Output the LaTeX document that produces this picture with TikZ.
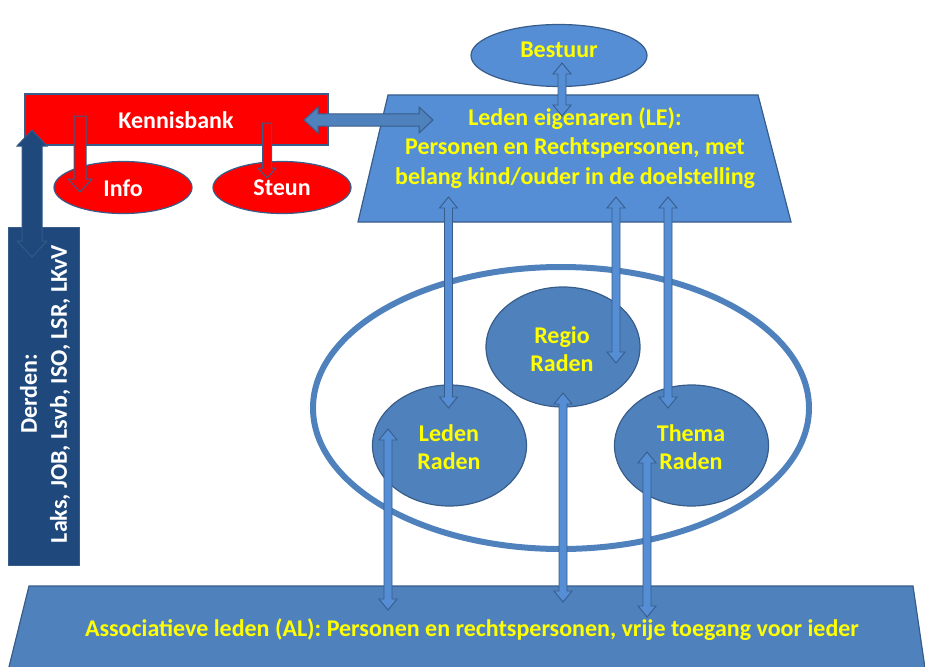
\documentclass[tikz,border=0pt]{standalone}
\usepackage{fontspec}
\setmainfont{Carlito}
\usetikzlibrary{shapes.geometric,calc}
\definecolor{lightblue}{RGB}{85,142,213}
\definecolor{midblue}{RGB}{79,129,189}
\definecolor{edgeblue}{RGB}{56,93,138}
\definecolor{darkblue}{RGB}{31,73,125}
\definecolor{txtyellow}{RGB}{255,255,0}
\definecolor{kred}{RGB}{255,0,0}
% double block arrow: style, A, B, shaft half width, head half width, head length
\newcommand\dblarrow[6]{%
  \coordinate (da1) at ($(#2)!#6!(#3)$);
  \coordinate (da2) at ($(#3)!#6!(#2)$);
  \draw[#1] (#2) -- ($(da1)!#5!90:(#3)$) -- ($(da1)!#4!90:(#3)$)
    -- ($(da2)!#4!90:(#3)$) -- ($(da2)!#5!90:(#3)$) -- (#3)
    -- ($(da2)!#5!-90:(#3)$) -- ($(da2)!#4!-90:(#3)$)
    -- ($(da1)!#4!-90:(#3)$) -- ($(da1)!#5!-90:(#3)$) -- cycle;}
% single block arrow: style, tail, tip, shaft half width, head half width, head length
\newcommand\sglarrow[6]{%
  \coordinate (sa1) at ($(#3)!#6!(#2)$);
  \draw[#1] ($(#2)!#4!90:(#3)$) -- ($(sa1)!#4!90:(#3)$) -- ($(sa1)!#5!90:(#3)$)
    -- (#3) -- ($(sa1)!#5!-90:(#3)$) -- ($(sa1)!#4!-90:(#3)$)
    -- ($(#2)!#4!-90:(#3)$) -- cycle;}
\tikzset{
  ell/.style={ellipse, draw=edgeblue, line width=1.2pt, inner sep=0pt},
  ytxt/.style={text=txtyellow, font=\bfseries\fontsize{24}{29.5}\selectfont, align=center, inner sep=0pt},
  wtxt/.style={text=white, font=\bfseries\fontsize{24}{29.5}\selectfont, align=center, inner sep=0pt},
  radentxt/.style={ytxt, font=\bfseries\fontsize{24}{28.5}\selectfont},
  thinarrow/.style={fill=lightblue, draw=edgeblue, line width=0.9pt, line join=miter},
  bluearrow/.style={fill=midblue, draw=edgeblue, line width=1pt, line join=miter},
  redarrow/.style={fill=kred, draw=edgeblue, line width=1pt, line join=miter},
  darkarrow/.style={fill=darkblue, draw=edgeblue!80!darkblue, line width=1pt, line join=miter},
}
\begin{document}
\begin{tikzpicture}[x=1pt,y=-1pt]
\useasboundingbox (0,0) rectangle (925,666);
% Associatieve leden trapezoid
\begin{scope}
  \clip (0,0) rectangle (925,666);
  \draw[fill=midblue, draw=edgeblue, line width=1.2pt] (29,586) -- (913,586) -- (926,675) -- (7,675) -- cycle;
\end{scope}
\node[ytxt] (al) at (472,630) {Associatieve leden (AL): Personen en rechtspersonen, vrije toegang voor ieder};
% Leden eigenaren trapezoid
\draw[fill=lightblue, draw=edgeblue, line width=1.2pt] (388,95) -- (758,95) -- (791,222) -- (358,222) -- cycle;
\node[ytxt] (le) at (575,148) {Leden eigenaren (LE):\\Personen en Rechtspersonen, met\\belang kind/ouder in de doelstelling};
% Bestuur
\node[ell, fill=lightblue, minimum width=176pt, minimum height=62pt] (bestuur) at (559,55.5) {};
\node[ytxt] (bestuurtxt) at (559,50) {Bestuur};
% Kennisbank
\node[draw=edgeblue, fill=kred, line width=1.2pt, minimum width=303pt, minimum height=51pt, inner sep=0pt] (kb) at (176.5,119.5) {};
\node[wtxt] (kbtxt) at (176,120) {Kennisbank};
\node[ell, fill=kred, minimum width=138pt, minimum height=52pt] (info) at (123,187.5) {};
\node[wtxt] (infotxt) at (123,188) {Info};
\node[ell, fill=kred, minimum width=138pt, minimum height=52pt] (steun) at (282,187.5) {};
\node[wtxt] (steuntxt) at (282,188) {Steun};
% Derden
\node[draw=edgeblue, fill=darkblue, line width=1pt, minimum width=71pt, minimum height=338pt, inner sep=0pt] (derden) at (43.5,396) {};
\node[wtxt, rotate=90, font=\bfseries\fontsize{24}{30}\selectfont] (derdentxt) at (45,394) {Derden:\\Laks, JOB, Lsvb, ISO, LSR, LKvV};
% big ellipse
\node[ellipse, draw=midblue, line width=6pt, minimum width=496pt, minimum height=282pt, inner sep=0pt] (raad) at (561,408) {};
% Raden
\node[ell, fill=midblue, minimum width=154pt, minimum height=120pt] (regio) at (563,347) {};
\node[radentxt] (regiotxt) at (562,349) {Regio\\Raden};
\node[ell, fill=midblue, minimum width=154pt, minimum height=121pt] (leden) at (449.5,445.5) {};
\node[radentxt] (ledentxt) at (449,447) {Leden\\Raden};
\node[ell, fill=midblue, minimum width=154pt, minimum height=121pt] (thema) at (691.5,445.5) {};
\node[radentxt] (thematxt) at (691,447) {Thema\\Raden};
% arrow end points
\coordinate (bestuurA) at (562,63);   \coordinate (leB) at (562,116);
\coordinate (kbR) at (304,120);       \coordinate (leL) at (433,120);
\coordinate (kbD) at (32,130);        \coordinate (derdenU) at (32,257);
\coordinate (kbI) at (80,116);        \coordinate (infoT) at (80,192);
\coordinate (kbS) at (267,123);       \coordinate (steunT) at (267,178);
\coordinate (le1) at (448.5,197);     \coordinate (ledenT) at (448.5,408);
\coordinate (le2) at (616,197);       \coordinate (regioT) at (616,363);
\coordinate (le3) at (668,197);       \coordinate (themaT) at (668,408);
\coordinate (ledenB) at (388,429);    \coordinate (al1) at (388,610);
\coordinate (regioB) at (563,393);    \coordinate (al2) at (563,602);
\coordinate (themaB) at (647,452);    \coordinate (al3) at (647,617);
% arrows
\dblarrow{thinarrow}{bestuurA}{leB}{4pt}{9pt}{11pt}
\dblarrow{bluearrow}{kbR}{leL}{6pt}{13pt}{14pt}
\dblarrow{darkarrow}{kbD}{derdenU}{10pt}{15pt}{16pt}
\sglarrow{redarrow}{kbI}{infoT}{6pt}{12pt}{13pt}
\sglarrow{redarrow}{kbS}{steunT}{4.5pt}{9pt}{10pt}
\dblarrow{thinarrow}{le1}{ledenT}{4pt}{9pt}{11pt}
\dblarrow{thinarrow}{le2}{regioT}{4pt}{9pt}{11pt}
\dblarrow{thinarrow}{le3}{themaT}{4pt}{9pt}{11pt}
\dblarrow{thinarrow}{ledenB}{al1}{4pt}{9pt}{11pt}
\dblarrow{thinarrow}{regioB}{al2}{4pt}{9pt}{11pt}
\dblarrow{thinarrow}{themaB}{al3}{4pt}{9pt}{11pt}
\end{tikzpicture}
\end{document}
